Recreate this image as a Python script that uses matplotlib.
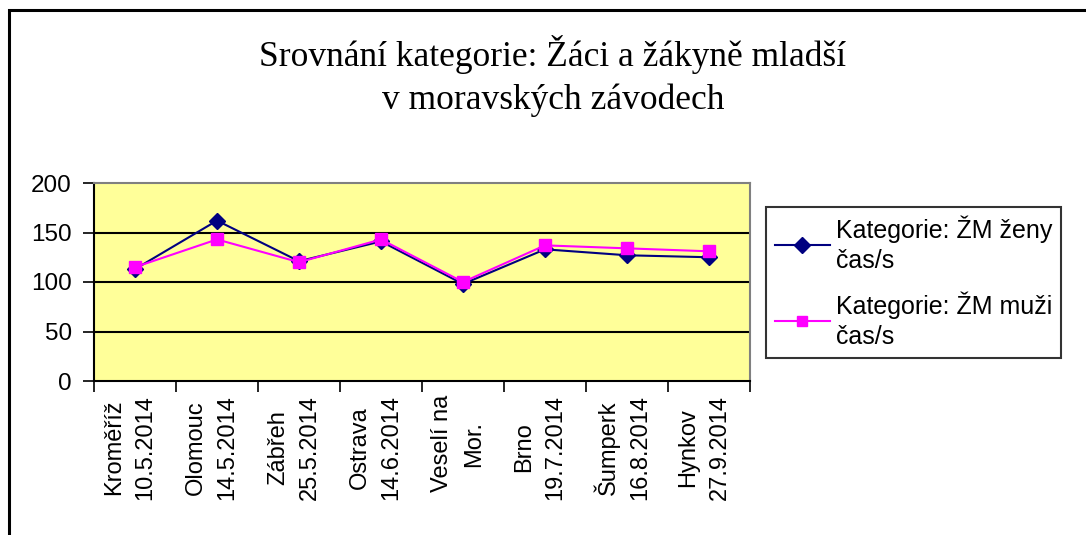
import matplotlib
matplotlib.use("Agg")
import matplotlib.pyplot as plt
from matplotlib.patches import Rectangle
from matplotlib.transforms import ScaledTranslation

categories = ["Kroměříž\n10.5.2014", "Olomouc\n14.5.2014", "Zábřeh\n25.5.2014",
              "Ostrava\n14.6.2014", "Veselí na\nMor.", "Brno\n19.7.2014",
              "Šumperk\n16.8.2014", "Hynkov\n27.9.2014"]
zeny = [113, 162, 121, 141, 98, 133, 127, 125]
muzi = [115, 143, 120, 143, 100, 137, 134, 131]
series_labels = ["Kategorie: ŽM ženy\nčas/s", "Kategorie: ŽM muži\nčas/s"]
yticks = [0, 50, 100, 150, 200]

W, H = 1086, 535
fig = plt.figure(figsize=(W / 100, H / 100), dpi=100)
fig.patch.set_facecolor("white")

# outer chart border (extends beyond image on right/bottom)
fig.patches.append(Rectangle((9 / W, -0.1), 1.2, 1 - 10 / H + 0.1,
                             transform=fig.transFigure, fill=False,
                             edgecolor="black", linewidth=2.2))

ax = fig.add_axes([94 / W, 1 - 381 / H, (750 - 94) / W, (381 - 183) / H])
ax.set_facecolor("#FFFF99")
x = list(range(len(categories)))
ax.plot(x, zeny, color="#000080", marker="D", markersize=8.5, linewidth=1.5,
        label=series_labels[0], zorder=3)
ax.plot(x, muzi, color="#FF00FF", marker="s", markersize=8.5, linewidth=1.5,
        label=series_labels[1], zorder=4)

ax.set_xlim(-0.5, len(categories) - 0.5)
ax.set_ylim(0, 200)
ax.set_yticks(yticks)
ax.set_yticklabels([str(v) for v in yticks], fontsize=17.5, family="Liberation Sans")
ax.tick_params(axis="y", direction="out", length=8, width=1.2, pad=8)
for v in yticks[1:-1]:
    ax.axhline(v, color="black", linewidth=1.5, zorder=1)

# category boundary ticks
ax.set_xticks([i - 0.5 for i in range(len(categories) + 1)])
ax.set_xticklabels([])
ax.tick_params(axis="x", direction="out", length=8, width=1.2)
ax.set_xticks(x, minor=True)
ax.set_xticklabels(categories, minor=True, rotation=90, fontsize=17,
                   family="Liberation Sans", multialignment="center",
                   linespacing=1.55)
ax.tick_params(axis="x", which="minor", length=0, pad=10)
shift = ScaledTranslation(-5 / 100, 0, fig.dpi_scale_trans)
for lbl in ax.get_xticklabels(minor=True):
    lbl.set_transform(lbl.get_transform() + shift)

for s in ["left", "bottom"]:
    ax.spines[s].set_color("black")
    ax.spines[s].set_linewidth(1.5)
for s in ["top", "right"]:
    ax.spines[s].set_color("#808080")
    ax.spines[s].set_linewidth(1.5)

fig.text(553 / W, 1 - 55 / H, "Srovnání kategorie: Žáci a žákyně mladší",
         ha="center", va="center", fontsize=25.5, family="Liberation Serif")
fig.text(553 / W, 1 - 100 / H, "v moravských závodech",
         ha="center", va="center", fontsize=25.5, family="Liberation Serif")

leg = fig.legend(loc="upper left", bbox_to_anchor=(766 / W, 1 - 207 / H),
                 borderaxespad=0,
                 prop={"family": "Liberation Sans", "size": 18},
                 frameon=True, fancybox=False, edgecolor="black",
                 handlelength=2.2, handletextpad=0.25, borderpad=0.35,
                 labelspacing=0.75, markerscale=0.9)
leg.get_frame().set_linewidth(1.5)
for t in leg.get_texts():
    t.set_linespacing(1.3)

fig.savefig("out.png", dpi=100, facecolor="white")
